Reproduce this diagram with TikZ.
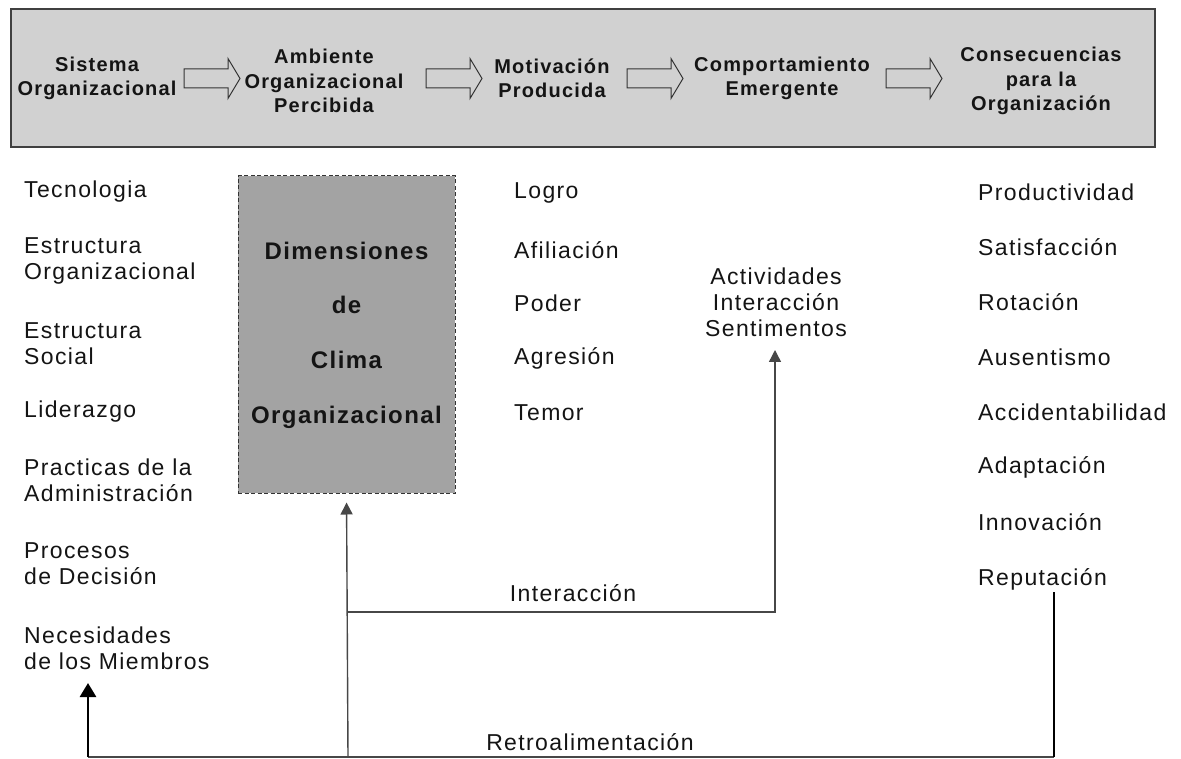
\documentclass[tikz,border=0pt]{standalone}
\usepackage{fontspec}
\setmainfont{Liberation Sans}[LetterSpace=6]
\usetikzlibrary{arrows.meta,calc}
\begin{document}
\begin{tikzpicture}[x=1pt,y=-1pt,
  lbl/.style={font=\fontsize{23}{26}\selectfont, text=black!92, inner sep=0pt, anchor=west, align=left},
  mid/.style={font=\fontsize{23}{26}\selectfont, text=black!92, inner sep=0pt, align=center},
  head/.style={font=\bfseries\fontsize{20}{24.5}\selectfont, text=black!92, inner sep=0pt, align=center},
  dimtext/.style={font=\bfseries\fontsize{24}{54.7}\selectfont, text=black!92, inner sep=0pt, align=center},
  blockarrow/.pic={
    \draw[draw=black!80, fill=black!18, line width=1pt, line join=miter]
      (0,-9.5) -- (44,-9.5) -- (44,-20) -- (56,0) -- (44,20) -- (44,9.5) -- (0,9.5) -- cycle;},
  link/.style={draw=black!72, line width=1.4pt},
  heavy/.style={draw=black, line width=2.8pt},
  tip/.style={-{Triangle[length=12pt,width=12pt]}},
  bigtip/.style={-{Triangle[length=14pt,width=16pt]}}
]
\useasboundingbox (0,0) rectangle (1181,759);
\fill[white] (0,0) rectangle (1181,759);

% banner with the five stages
\draw[fill=black!18, draw=black!75, line width=2pt] (10.5,9.5) rectangle (1155,147);
\node[head] (s1) at (97,78.5) {Sistema\\Organizacional};
\node[head] (s2) at (324,81) {Ambiente\\Organizacional\\Percibida};
\node[head] (s3) at (552,78.5) {Motivación\\Producida};
\node[head] (s4) at (782,78.5) {Comportamiento\\Emergente};
\node[head] (s5) at (1041,81) {Consecuencias\\para la\\Organización};
\pic at (184,78.5) {blockarrow};
\pic at (426,78.5) {blockarrow};
\pic at (627,78.5) {blockarrow};
\pic at (886,78.5) {blockarrow};

% organisational system
\node[lbl] (t1) at (24,192) {Tecnologia};
\node[lbl] (t2) at (24,260.5) {Estructura\\Organizacional};
\node[lbl] (t3) at (24,344) {Estructura\\Social};
\node[lbl] (t4) at (24,412) {Liderazgo};
\node[lbl] (t5) at (24,480) {Practicas de la\\Administración};
\node[lbl] (t6) at (24,564) {Procesos\\de Decisión};
\node[lbl] (t7) at (24,648.5) {Necesidades\\de los Miembros};

% climate dimensions
\node[draw=black!80, dash pattern=on 4pt off 2.5pt, line width=1pt, fill=black!36,
  minimum width=217pt, minimum height=317pt, inner sep=0pt] (dim) at (346.5,334.5) {};
\node[dimtext] (dimt) at (346.5,335) {Dimensiones\\de\\Clima\\Organizacional};

% motivation
\node[lbl] (m1) at (514,193) {Logro};
\node[lbl] (m2) at (514,250) {Afiliación};
\node[lbl] (m3) at (514,303) {Poder};
\node[lbl] (m4) at (514,358) {Agresión};
\node[lbl] (m5) at (514,413) {Temor};

% emergent behaviour
\node[mid] (act) at (776,302) {Actividades\\Interacción\\Sentimentos};

% consequences
\node[lbl] (c1) at (978,192) {Productividad};
\node[lbl] (c2) at (978,247) {Satisfacción};
\node[lbl] (c3) at (978,302) {Rotación};
\node[lbl] (c4) at (978,357) {Ausentismo};
\node[lbl] (c5) at (978,412) {Accidentabilidad};
\node[lbl] (c6) at (978,467) {Adaptación};
\node[lbl] (c7) at (978,522) {Innovación};
\node[lbl] (c8) at (978,579) {Reputación};

% interaction and feedback loops
\coordinate (j1) at (348,757);
\coordinate (j2) at (348,612);
\coordinate (acttip) at (775,350);
\coordinate (needtip) at (88,683);
\coordinate (lb) at (88,757);
\coordinate (rb) at (1054,757);
\coordinate (reptop) at (1054,592);

\draw[link, tip, shorten >=9pt] (j1) -- (dim.south);
\draw[link, tip] (j2) -| (acttip);
\draw[link] (lb) -- (rb);
\draw[heavy, bigtip] (lb) -- (needtip);
\draw[heavy] (rb) -- (reptop);

\node[mid] (int) at (573,593) {Interacción};
\node[mid] (ret) at (590,742) {Retroalimentación};
\end{tikzpicture}
\end{document}
